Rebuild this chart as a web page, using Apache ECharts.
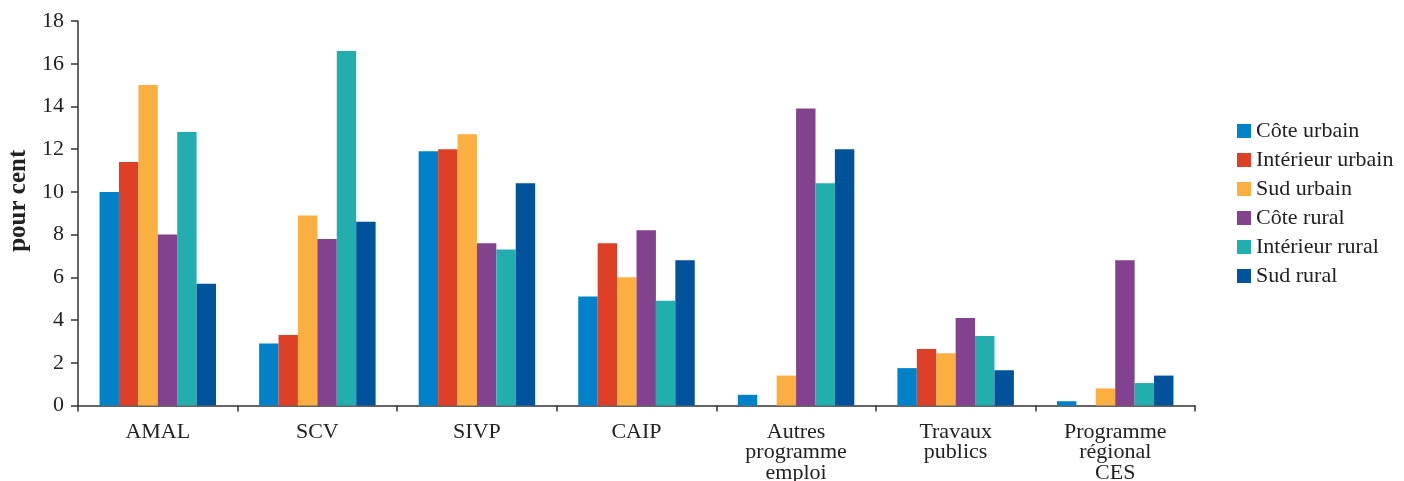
<!DOCTYPE html>
<html>
<head>
<meta charset="utf-8">
<script src="https://cdn.jsdelivr.net/npm/echarts@6/dist/echarts.min.js"></script>
<style>
  html, body { margin: 0; padding: 0; background: #fff; }
  #chart { width: 1404px; height: 481px; }
</style>
</head>
<body>
<div id="chart"></div>
<script>
var categories = ['AMAL', 'SCV', 'SIVP', 'CAIP', 'Autres\nprogramme\nemploi', 'Travaux\npublics', 'Programme\nrégional\nCES'];
var seriesNames = ['Côte urbain', 'Intérieur urbain', 'Sud urbain', 'Côte rural', 'Intérieur rural', 'Sud rural'];
var coteUrbain = [10.0, 2.9, 11.9, 5.1, 0.5, 1.75, 0.2];
var interieurUrbain = [11.4, 3.3, 12.0, 7.6, 0, 2.65, 0];
var sudUrbain = [15.0, 8.9, 12.7, 6.0, 1.4, 2.45, 0.8];
var coteRural = [8.0, 7.8, 7.6, 8.2, 13.9, 4.1, 6.8];
var interieurRural = [12.8, 16.6, 7.3, 4.9, 10.4, 3.25, 1.05];
var sudRural = [5.7, 8.6, 10.4, 6.8, 12.0, 1.65, 1.4];
var colors = ['#0082CA', '#DE4027', '#FCAF41', '#83428E', '#22ADAF', '#00529B'];

var allValues = [coteUrbain, interieurUrbain, sudUrbain, coteRural, interieurRural, sudRural];
var fontFam = '"Liberation Serif", "DejaVu Serif", serif';

var myChart = echarts.init(document.getElementById('chart'), null, { renderer: 'canvas' });

var series = [];
for (var i = 0; i < seriesNames.length; i++) {
    series.push({
        name: seriesNames[i],
        type: 'bar',
        data: allValues[i],
        barGap: '0%',
        barCategoryGap: '27%',
        itemStyle: { color: colors[i] }
    });
}

var option = {
    animation: false,
    textStyle: { fontFamily: fontFam },
    color: colors,
    grid: { left: 78, right: 209, top: 21, bottom: 75.5, outerBoundsMode: 'none' },
    legend: {
        orient: 'vertical',
        left: 1237,
        top: 120,
        padding: 0,
        itemWidth: 14,
        itemHeight: 14,
        itemGap: 7,
        icon: 'rect',
        data: seriesNames,
        textStyle: { fontFamily: fontFam, fontSize: 22, color: '#222' }
    },
    xAxis: {
        type: 'category',
        data: categories,
        axisLine: { lineStyle: { color: '#333', width: 1.5 } },
        axisTick: { show: true, length: 6, lineStyle: { color: '#333', width: 1.5 } },
        axisLabel: {
            fontFamily: fontFam, fontSize: 22, color: '#222',
            lineHeight: 20.5, margin: 16, interval: 0
        }
    },
    yAxis: {
        type: 'value',
        min: 0,
        max: 18,
        interval: 2,
        name: 'pour cent',
        nameLocation: 'middle',
        nameGap: 39,
        nameTextStyle: { fontFamily: fontFam, fontSize: 25, fontWeight: 'bold', color: '#222', padding: [0, 0, 0, 25] },
        axisLine: { show: true, lineStyle: { color: '#333', width: 1.5 } },
        axisTick: { show: true, length: 7, lineStyle: { color: '#333', width: 1.5 } },
        splitLine: { show: false },
        axisLabel: { fontFamily: fontFam, fontSize: 22, color: '#222', margin: 14 }
    },
    series: series
};

myChart.setOption(option);
</script>
</body>
</html>
